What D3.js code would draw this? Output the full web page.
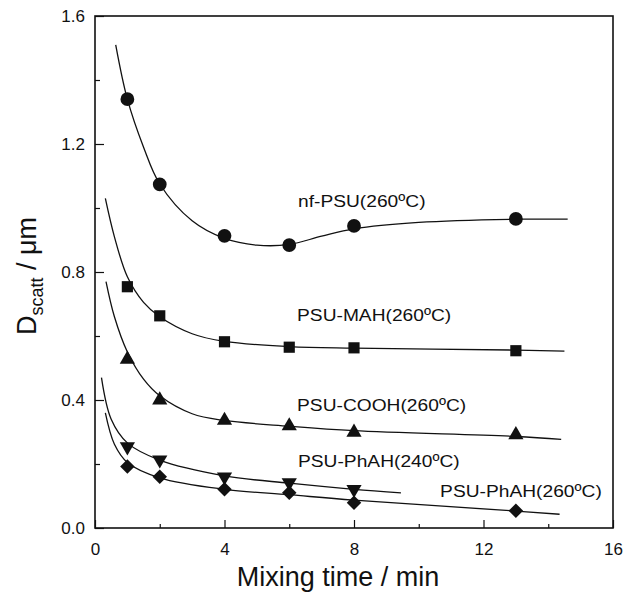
<!DOCTYPE html>
<html>
<head>
<meta charset="utf-8">
<script src="https://d3js.org/d3.v7.min.js"></script>
<style>
  body { margin: 0; background: #fff; }
  text { font-family: "Liberation Sans", Arial, Helvetica, sans-serif; fill: #111; }
</style>
</head>
<body>
<script>
// measured points (mixing time in min, D_scatt in um)
var timesA = [1, 2, 4, 6, 8, 13];
var timesB = [1, 2, 4, 6, 8];

var nfPSU   = [1.34, 1.074, 0.913, 0.884, 0.944, 0.966];
var psuMAH  = [0.754, 0.663, 0.582, 0.565, 0.563, 0.554];
var psuCOOH = [0.527, 0.400, 0.336, 0.319, 0.299, 0.291];
var phah240 = [0.254, 0.213, 0.160, 0.142, 0.121];
var phah260 = [0.192, 0.160, 0.121, 0.110, 0.079, 0.054];

// fitted curves
var fitNfX   = [0.64, 1, 1.5, 2, 3, 4, 5, 6, 7, 8, 10, 13, 14.6];
var fitNfY   = [1.51, 1.34, 1.19, 1.075, 0.96, 0.905, 0.884, 0.886, 0.912, 0.935, 0.955, 0.965, 0.965];
var fitMahX  = [0.32, 0.6, 1, 1.5, 2, 3, 4, 6, 8, 13, 14.5];
var fitMahY  = [1.03, 0.91, 0.785, 0.705, 0.66, 0.607, 0.583, 0.567, 0.562, 0.556, 0.553];
var fitCoohX = [0.34, 0.6, 1, 1.5, 2, 3, 4, 6, 8, 13, 14.4];
var fitCoohY = [0.77, 0.66, 0.55, 0.465, 0.413, 0.357, 0.336, 0.318, 0.304, 0.286, 0.277];
var fit240X  = [0.2, 0.5, 1, 2, 4, 6, 8, 9.45];
var fit240Y  = [0.47, 0.34, 0.266, 0.212, 0.163, 0.14, 0.121, 0.11];
var fit260X  = [0.32, 0.6, 1, 2, 4, 6, 8, 13, 14.35];
var fit260Y  = [0.36, 0.262, 0.205, 0.157, 0.121, 0.104, 0.087, 0.053, 0.043];

var labelText = ["nf-PSU(260\u00baC)", "PSU-MAH(260\u00baC)", "PSU-COOH(260\u00baC)", "PSU-PhAH(240\u00baC)", "PSU-PhAH(260\u00baC)"];
var labelX = [6.27, 6.24, 6.24, 6.27, 10.66];
var labelY = [1.003, 0.647, 0.367, 0.192, 0.097];

var xMajor = [0, 4, 8, 12, 16];
var xMinor = [2, 6, 10, 14];
var yMajor = [0, 0.4, 0.8, 1.2, 1.6];
var yMinor = [0.2, 0.6, 1.0, 1.4];

var width = 625, height = 606;
var margin = {top: 16, right: 12, bottom: 78, left: 95};

var svg = d3.select("body").append("svg")
    .attr("width", width)
    .attr("height", height);

var x = d3.scaleLinear().domain([0, 16]).range([margin.left, width - margin.right]);
var y = d3.scaleLinear().domain([0, 1.6]).range([height - margin.bottom, margin.top]);

//ticks pointing inwards
svg.append("g")
    .attr("transform", "translate(0," + y(0) + ")")
    .call(d3.axisBottom(x).tickValues(xMajor).tickSizeInner(-8).tickSizeOuter(0).tickPadding(15).tickFormat(d3.format("d")))
    .call(function(g){ g.select(".domain").remove(); });
svg.append("g")
    .attr("transform", "translate(0," + y(0) + ")")
    .call(d3.axisBottom(x).tickValues(xMinor).tickSizeInner(-4).tickSizeOuter(0).tickFormat(""))
    .call(function(g){ g.select(".domain").remove(); });
svg.append("g")
    .attr("transform", "translate(" + x(0) + ",0)")
    .call(d3.axisLeft(y).tickValues(yMajor).tickSizeInner(-9).tickSizeOuter(0).tickPadding(10).tickFormat(d3.format(".1f")))
    .call(function(g){ g.select(".domain").remove(); });
svg.append("g")
    .attr("transform", "translate(" + x(0) + ",0)")
    .call(d3.axisLeft(y).tickValues(yMinor).tickSizeInner(-5).tickSizeOuter(0).tickFormat(""))
    .call(function(g){ g.select(".domain").remove(); });

svg.selectAll(".tick line").attr("stroke", "#111").attr("stroke-width", 1.2);
svg.selectAll(".tick text")
    .style("font-size", "17px")
    .style("font-family", "'Liberation Sans', Arial, sans-serif")
    .attr("fill", "#111");

//frame
svg.append("rect")
    .attr("x", x(0))
    .attr("y", y(1.6))
    .attr("width", x(16) - x(0))
    .attr("height", y(0) - y(1.6))
    .attr("fill", "none")
    .attr("stroke", "#111")
    .attr("stroke-width", 1.6);

//fitted curves
var line = d3.line()
    .x(function(d){ return x(d[0]); })
    .y(function(d){ return y(d[1]); })
    .curve(d3.curveCatmullRom.alpha(0.5));

var fits = [[fitNfX, fitNfY], [fitMahX, fitMahY], [fitCoohX, fitCoohY], [fit240X, fit240Y], [fit260X, fit260Y]];
fits.forEach(function(f){
    svg.append("path")
        .datum(d3.zip(f[0], f[1]))
        .attr("d", line)
        .attr("fill", "none")
        .attr("stroke", "#111")
        .attr("stroke-width", 1.3);
});

//markers
var series = [
    {xs: timesA, ys: nfPSU,   sym: d3.symbolCircle,   size: 150, rot: 0},
    {xs: timesA, ys: psuMAH,  sym: d3.symbolSquare,   size: 125, rot: 0},
    {xs: timesA, ys: psuCOOH, sym: d3.symbolTriangle, size: 100, rot: 0},
    {xs: timesB, ys: phah240, sym: d3.symbolTriangle, size: 100, rot: 180},
    {xs: timesA, ys: phah260, sym: d3.symbolSquare,   size: 105, rot: 45}
];
series.forEach(function(s){
    svg.append("g").selectAll("path")
        .data(d3.zip(s.xs, s.ys))
        .enter()
        .append("path")
        .attr("d", d3.symbol().type(s.sym).size(s.size))
        .attr("transform", function(d){ return "translate(" + x(d[0]) + "," + y(d[1]) + ") rotate(" + s.rot + ")"; })
        .attr("fill", "#111");
});

//series labels
svg.append("g").selectAll("text")
    .data(labelText)
    .enter()
    .append("text")
    .attr("transform", function(d, i){ return "translate(" + x(labelX[i]) + "," + y(labelY[i]) + ") scale(1.13,1)"; })
    .style("font-size", "17px")
    .text(function(d){ return d; });

//axis titles
svg.append("text")
    .attr("transform", "translate(338,586)")
    .attr("text-anchor", "middle")
    .style("font-size", "27px")
    .text("Mixing time / min");

var yt = svg.append("text")
    .attr("transform", "translate(36,276) rotate(-90)")
    .attr("text-anchor", "middle")
    .style("font-size", "27px");
yt.append("tspan").text("D");
yt.append("tspan").attr("dy", 7).style("font-size", "18px").text("scatt");
yt.append("tspan").attr("dy", -7).text(" / \u03bcm");
</script>
</body>
</html>
